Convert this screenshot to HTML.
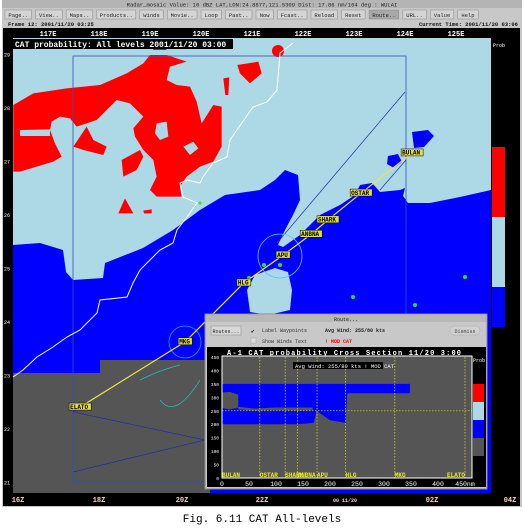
<!DOCTYPE html>
<html><head><meta charset="utf-8"><style>
html,body{margin:0;padding:0;background:#fff;width:524px;height:530px;overflow:hidden}
svg{display:block}
text{font-family:"Liberation Mono",monospace}
</style></head><body>
<svg width="524" height="530" viewBox="0 0 524 530">
<rect x="2" y="0" width="520" height="507" fill="#c8c8c8"/>
<rect x="2" y="0" width="520" height="8" fill="#b4b4b4"/>
<text x="262" y="6.5" font-size="5.5" text-anchor="middle" font-family="Liberation Sans" fill="#222">Radar_mosaic Value: 10 dBZ  LAT,LON:24.8877,121.5309   Dist: 17.86 nm/164 deg : WULAI</text>
<g id="toolbar" font-family="Liberation Sans" font-size="5.5" fill="#222"></g>
<text x="8" y="26" font-size="5.5" font-family="Liberation Sans" font-weight="bold" fill="#111">Frame 12: 2001/11/20 03:25</text>
<text x="518" y="26" font-size="5.5" font-family="Liberation Sans" font-weight="bold" fill="#111" text-anchor="end">Current Time: 2001/11/20 03:06</text>
<rect x="3" y="28" width="517" height="478" fill="#000"/>
<g>
<rect x="13" y="38" width="478" height="455" fill="#add8e6"/>
<path d="M13,245 L40,243 L63,250 L66,272 L73,280 L103,278 L105,263 L143,248 L173,230 L200,210 L225,195 L260,190 L275,180 L285,170 L298,175 L300,200 L293,215 L285,230 L278,245 L283,247 L300,235 L320,215 L340,205 L355,195 L360,185 L372,183 L380,192 L400,190 L405,188 L403,196 L408,203 L430,203 L460,197 L491,190 L491,493 L13,493 Z" fill="#0000ff"/>
<path d="M412,132 L428,130 L434,136 L424,147 L414,148 Z M388,156 L398,154 L402,162 L394,168 L387,164 Z" fill="#0000ff"/>
<path d="M255,275 L275,268 L288,272 L292,290 L290,310 L268,315 L250,312 L247,290 Z" fill="#add8e6"/>
<path d="M13,373 L100,373 L100,360 L210,360 L210,493 L13,493 Z" fill="#555"/>
<g transform="translate(0,30) scale(0.3333)">
<path d="M40,225 L100,190 L200,175 L300,165 L380,130 L430,100 L450,75 L500,75 L560,95 L510,110 L500,150 L530,165 L570,170 L590,215 L605,280 L640,225 L665,230 L665,350 L640,395 L600,410 L560,440 L540,470 L545,500 L470,500 L450,480 L470,440 L460,390 L430,360 L405,320 L400,295 L430,260 L390,220 L350,210 L320,240 L290,270 L230,290 L210,265 L180,260 L155,275 L150,300 L165,340 L185,380 L160,395 L110,410 L60,425 L40,425 Z" fill="#ff0000"/>
<path d="M60,300 L150,298 L150,318 L60,318 Z M470,280 L500,275 L505,320 L480,330 L465,310 Z M550,350 L580,335 L595,355 L570,375 Z" fill="#add8e6"/>
<path d="M220,350 L260,290 L280,330 L320,350 L310,375 L250,360 Z M365,390 L420,360 L430,380 L410,420 L370,440 Z M355,550 L375,505 L400,550 Z M430,542 L455,538 L455,550 L432,550 Z M712,105 L775,95 L785,130 L750,160 L720,130 Z M670,145 L688,142 L685,195 L676,195 Z M100,40 L160,40 L155,50 L105,50 Z M240,40 L300,40 L295,50 L245,50 Z M455,48 L495,45 L500,60 L460,60 Z" fill="#ff0000"/>
</g>
<circle cx="278" cy="51" r="6" fill="#ff0000"/>
<rect x="73" y="56" width="333" height="426" fill="none" stroke="#3050c0" stroke-width="0.8"/>
<path d="M293,43 L280,53 L277,90 L267,102 L253,107 L230,140 L227,157 L213,163 L203,177 L200,183 L187,180 L180,183 L183,197 L197,203 L187,217 L177,230 L173,243 L160,250 L150,260 L140,270 L133,283 L127,297 L100,300 L97,313 L80,330 L67,337 L53,347 L37,357 L23,370 L13,377" fill="none" stroke="#fff" stroke-width="1"/>
<path d="M73,412 L205,440 M73,472 L205,440 M73,412 L185,342 M405,92 L277,243 M406,160 L380,190" fill="none" stroke="#2030a0" stroke-width="0.7"/>
<circle cx="185" cy="342" r="16" fill="none" stroke="#20a0ff" stroke-width="0.8"/>
<circle cx="280" cy="256" r="22" fill="none" stroke="#60c0ff" stroke-width="0.8"/>
<path d="M160,400 Q175,420 200,380 M140,380 Q160,370 180,365" fill="none" stroke="#20c0c0" stroke-width="0.7"/>
<g fill="#30e030">
<circle cx="264" cy="265" r="2"/><circle cx="280" cy="265" r="2"/><circle cx="249" cy="278" r="2"/><circle cx="353" cy="297" r="2"/><circle cx="415" cy="305" r="2"/><circle cx="465" cy="277" r="2"/><circle cx="200" cy="203" r="1.5"/>
</g>
<polyline id="route" fill="none" stroke="#e8e840" stroke-width="1.2"/>
<g id="waypoints" font-size="6" font-weight="bold"></g>
<rect x="13" y="39" width="220" height="10" fill="#000"/>
<text x="15" y="47" font-size="8" fill="#fff" font-weight="bold">CAT probability: All levels 2001/11/20 03:00</text>
</g>
<g id="lonlabels" font-size="7" fill="#fff" font-weight="bold"></g>
<g id="latlabels" font-size="5" fill="#fff"></g>
<g id="timelabels" font-size="7" fill="#fff" font-weight="bold"></g>
<g>
<text x="493" y="47" font-size="5" fill="#fff">Prob</text>
<rect x="492" y="147" width="13" height="70" fill="#ff0000"/>
<rect x="492" y="217" width="13" height="70" fill="#add8e6"/>
<rect x="492" y="287" width="13" height="40" fill="#0000ff"/>
</g>
<g>
<rect x="205" y="314" width="282" height="175" fill="#c8c8c8" stroke="#888" stroke-width="1"/>
<rect x="206" y="315" width="280" height="7" fill="#b8b8b8"/>
<text x="346" y="321" font-size="5" text-anchor="middle" font-family="Liberation Sans" fill="#222">Route...</text>
<rect x="211" y="326" width="30" height="9" fill="#d8d8d8" stroke="#888" stroke-width="0.5"/>
<text x="226" y="333" font-size="5" text-anchor="middle" font-family="Liberation Sans" fill="#222">Routes...</text>
<text x="251" y="333" font-size="6" fill="#222">✔</text>
<text x="262" y="332" font-size="5" font-family="Liberation Sans" fill="#333">Label Waypoints</text>
<rect x="251" y="338" width="5" height="5" fill="#ddd" stroke="#999" stroke-width="0.4"/>
<text x="262" y="343" font-size="5" font-family="Liberation Sans" fill="#333">Show Winds Text</text>
<text x="325" y="332" font-size="5" font-family="Liberation Sans" font-weight="bold" fill="#222">Avg Wind: 255/80 kts</text>
<text x="325" y="343" font-size="5" font-family="Liberation Sans" font-weight="bold" fill="#f00">! MOD CAT</text>
<rect x="450" y="326" width="30" height="9" rx="4" fill="#d0d0d0" stroke="#aaa" stroke-width="0.5"/>
<text x="465" y="333" font-size="5" text-anchor="middle" font-family="Liberation Sans" fill="#444">Dismiss</text>
<rect x="207" y="347" width="279" height="140" fill="#000"/>
<text x="227" y="355" font-size="7" fill="#fff" font-weight="bold" textLength="234" lengthAdjust="spacing">A-1   CAT probability Cross Section 11/20   3:00</text>
<svg id="xs" x="0" y="0" width="524" height="530"></svg>
</g>
<text x="262" y="522" font-size="11" text-anchor="middle" font-family="Liberation Serif" fill="#000">Fig. 6.11 CAT All-levels</text>
</svg>
<script>
const NS="http://www.w3.org/2000/svg";
function mk(p,tag,attrs,txt){const e=document.createElementNS(NS,tag);for(const k in attrs)e.setAttribute(k,attrs[k]);if(txt!==undefined)e.textContent=txt;p.appendChild(e);return e;}
const buttons=["Page..","View..","Maps..","Products..","Winds","Movie..","Loop","Past..","Now","Fcast..","Reload","Reset","Route..","URL..","Value","Help"];
const tb=document.getElementById('toolbar');let bx=5;
buttons.forEach(b=>{const w=b.length*3.1+8;
const r=mk(tb,'rect',{x:bx,y:10,width:w,height:9,fill:b==="Route.."?'#a8a8a8':'#d4d4d4',stroke:'#888','stroke-width':0.5});


const t=mk(tb,'text',{x:bx+w/2,y:17,'text-anchor':'middle'},b);


bx+=w+4;});
const lonLabels=["117E","118E","119E","120E","121E","122E","123E","124E","125E"];
const lonFirst=117;
function lonX(v){return 48+(v-lonFirst)*51;}
const lg=document.getElementById('lonlabels');
lonLabels.forEach((l,i)=>{const t=mk(lg,'text',{x:lonX(lonFirst+i),y:36,'text-anchor':'middle'},l);

});
const latLabels=["29","28","27","26","25","24","23","22","21"];
const latVals=[29,28,27,26,25,24,23,22,21];
function latY(v){return 322+(24-v)*53.5;}
const la=document.getElementById('latlabels');
latVals.forEach((v,i)=>{const t=mk(la,'text',{x:4,y:latY(v)+2},latLabels[i]);

});
const timeLabels=["16Z","18Z","20Z","22Z","00 11/20","02Z","04Z"];
const timeX=[18,99,182,262,345,432,510];
const tg=document.getElementById('timelabels');
timeLabels.forEach((l,i)=>{const t=mk(tg,'text',{x:timeX[i],y:502,'text-anchor':'middle','font-size':i===4?5:7,fill:'#ffd0d0'},l);

});
const wpNames=["BULAN","OSTAR","SHARK","ANBNA","APU","HLG","MKG","ELATO"];
const wpLon=[124.14,123.14,122.49,122.16,121.61,120.84,119.69,117.63];
const wpLat=[27.16,26.41,25.91,25.64,25.25,24.73,23.63,22.41];
const pts=wpLon.map((v,i)=>lonX(v)+","+latY(wpLat[i])).join(" ");
document.getElementById('route').setAttribute('points',pts);
const wg=document.getElementById('waypoints');
wpNames.forEach((n,i)=>{const x=lonX(wpLon[i]),y=latY(wpLat[i]);
const r=mk(wg,'rect',{x:x-n.length*2-1,y:y-4,width:n.length*4+2,height:7,fill:'#e0e040',stroke:'#000','stroke-width':0.5});


const t=mk(wg,'text',{x:x-n.length*2,y:y+1.8,fill:'#000'},n);

});
const xsTicks=[0,50,100,150,200,250,300,350,400,450];
const altTicks=[0,50,100,150,200,250,300,350,400,450];
const xsWpNames=["BULAN","OSTAR","SHARK","ANBNA","APU","HLG","MKG","ELATO"];
const xsWpDist=[0,70,117,140,176,229,320,450];
const blueDist=[0,60,110,140,170,175,200,229,232,300,348];
const blueTop=[350,350,350,350,350,350,350,350,350,350,350];
const blueBot=[200,200,200,200,205,250,215,205,315,315,315];
const greyHoleDist=[0,15,30,30,60,100,140,168,168,100,60,30,30,15,0];
const greyHoleAlt=[260,255,262,255,250,252,250,252,262,262,258,265,310,320,318];
const x0=222,xs=0.54,y0=478,ys=121/450;
function X(d){return x0+d*xs;}
function Y(a){return y0-a*ys;}
const g=document.getElementById('xs');
const bg=mk(g,'rect',{x:222,y:356,width:250,height:122,fill:'#555'});


let d="";blueDist.forEach((v,i)=>{d+=(i?"L":"M")+X(v)+","+Y(blueTop[i]);});
for(let i=blueDist.length-1;i>=0;i--)d+="L"+X(blueDist[i])+","+Y(blueBot[i]);
const bp=mk(g,'path',{d:d+"Z",fill:'#0000ff'});


let h="";greyHoleDist.forEach((v,i)=>{h+=(i?"L":"M")+X(v)+","+Y(greyHoleAlt[i]);});
const hp=mk(g,'path',{d:h+"Z",fill:'#555'});


const hl=mk(g,'line',{x1:222,x2:472,y1:Y(250),y2:Y(250),stroke:'#c8c820','stroke-width':0.7,'stroke-dasharray':'1.5,1.5'});


xsWpDist.forEach((v,i)=>{const l=mk(g,'line',{x1:X(v),x2:X(v),y1:357,y2:Y(0),stroke:'#e0e020','stroke-width':0.7,'stroke-dasharray':'1.5,1.5'});


const t=mk(g,'text',{x:X(v)-(i===xsWpDist.length-1?18:0),y:Y(0)-1,'font-size':6,fill:'#e8e820','font-weight':'bold'},xsWpNames[i]);

});
const ab=mk(g,'rect',{x:293,y:362,width:90,height:7,fill:'#000'});


const at=mk(g,'text',{x:295,y:368,'font-size':5.5,fill:'#fff'},"Avg Wind: 255/80 kts ! MOD CAT");


const fr=mk(g,'rect',{x:222,y:356,width:250,height:122,fill:'none',stroke:'#fff','stroke-width':1});


xsTicks.forEach(v=>{const t=mk(g,'text',{x:X(v),y:486,'font-size':6.5,fill:'#fff','text-anchor':'middle'},v===450?"450nm":String(v));

});
altTicks.forEach(v=>{const t=mk(g,'text',{x:219,y:Y(v)+2,'font-size':4.5,fill:'#fff','text-anchor':'end'},String(v));

});
const pt=mk(g,'text',{x:473,y:362,'font-size':5,fill:'#fff'},"Prob");


const legC=['#ff0000','#add8e6','#0000ff','#555'];
legC.forEach((c,i)=>{const r=mk(g,'rect',{x:473,y:384+i*18,width:11,height:18,fill:c});

});
</script>
</body></html>
